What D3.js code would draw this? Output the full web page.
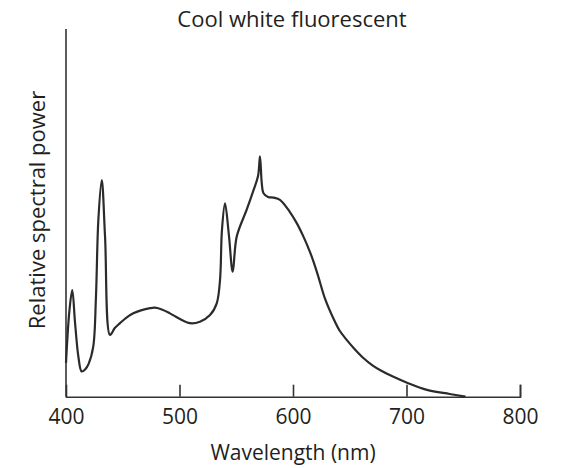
<!DOCTYPE html>
<html>
<head>
<meta charset="utf-8">
<script src="https://cdn.jsdelivr.net/npm/d3@7"></script>
<style>
  html, body { margin: 0; padding: 0; background: #fff; }
  svg { display: block; }
  text { font-family: "Open Sans", "Noto Sans", sans-serif; fill: #231f20; }
</style>
</head>
<body>
<svg id="chart" width="567" height="468"></svg>
<script>
// Spectral power distribution of a cool white fluorescent lamp (relative units)
const wavelengths = [400, 403, 405.5, 408, 411, 413.8, 417, 420, 424, 426.4, 428.5, 431.5, 434.4, 438.8,
  443, 447.6, 453, 459.3, 466, 474, 478.4, 485, 491.6, 500, 509.3, 518, 526.9, 532.8, 535.7, 537.4, 540.1,
  543.5, 546.9, 550.4, 559.2, 565, 569.2, 570.9, 572.5, 574, 578, 583, 588.5, 597, 603.3, 609, 615, 618.5,
  622.3, 628.2, 635.5, 641, 647.3, 654, 662, 670, 677, 688, 700, 718, 738, 752];
const power = [0.138, 0.35, 0.435, 0.30, 0.16, 0.103, 0.112, 0.135, 0.204, 0.408, 0.721, 0.884, 0.653, 0.252,
  0.28, 0.30, 0.322, 0.34, 0.352, 0.361, 0.363, 0.355, 0.34, 0.318, 0.30, 0.306, 0.333, 0.381, 0.476, 0.68, 0.789,
  0.66, 0.51, 0.653, 0.763, 0.84, 0.90, 0.98, 0.87, 0.83, 0.815, 0.812, 0.803, 0.755, 0.708, 0.655, 0.59, 0.545,
  0.49, 0.40, 0.32, 0.27, 0.232, 0.196, 0.158, 0.128, 0.108, 0.082, 0.058, 0.028, 0.011, 0];
const xTicks = [400, 500, 600, 700, 800];
const title = "Cool white fluorescent";
const xTitle = "Wavelength (nm)";
const yTitle = "Relative spectral power";

const svg = d3.select("#chart");
const x = d3.scaleLinear().domain([400, 800]).range([66, 520]);
const y = d3.scaleLinear().domain([0, 1.5]).range([396.7, 29]);

// Axes: plain frame lines with short inward ticks along the bottom
const xAxis = d3.axisBottom(x).tickValues(xTicks).tickSize(-12).tickPadding(16).tickFormat(d3.format("d"));
const gx = svg.append("g").attr("transform", `translate(0,${y(0)})`).call(xAxis);
gx.select(".domain").attr("stroke", "#333").attr("stroke-width", 1.6);
gx.selectAll(".tick line").attr("stroke", "#333").attr("stroke-width", 1.6)
  .filter(d => d === 400).remove();
gx.selectAll(".tick text").attr("font-size", 21).attr("font-family", "Open Sans, sans-serif")
  .attr("fill", "#231f20").attr("dy", null).attr("y", 27);

svg.append("line")
  .attr("x1", x(400)).attr("x2", x(400))
  .attr("y1", y(1.5)).attr("y2", y(0))
  .attr("stroke", "#333").attr("stroke-width", 1.6);

// Spectrum curve
const data = wavelengths.map((w, i) => ({ w, p: power[i] }));
const line = d3.line().x(d => x(d.w)).y(d => y(d.p)).curve(d3.curveCatmullRom.alpha(0.5));
svg.append("path")
  .datum(data)
  .attr("d", line)
  .attr("fill", "none")
  .attr("stroke", "#2b2b2b")
  .attr("stroke-width", 2.2)
  .attr("stroke-linejoin", "round");

// Titles
svg.append("text")
  .attr("x", 292).attr("y", 27)
  .attr("text-anchor", "middle").attr("font-size", 22)
  .text(title);

svg.append("text")
  .attr("x", 293).attr("y", 460)
  .attr("text-anchor", "middle").attr("font-size", 21)
  .text(xTitle);

svg.append("text")
  .attr("transform", "translate(45,210) rotate(-90)")
  .attr("text-anchor", "middle").attr("font-size", 22)
  .text(yTitle);
</script>
</body>
</html>
